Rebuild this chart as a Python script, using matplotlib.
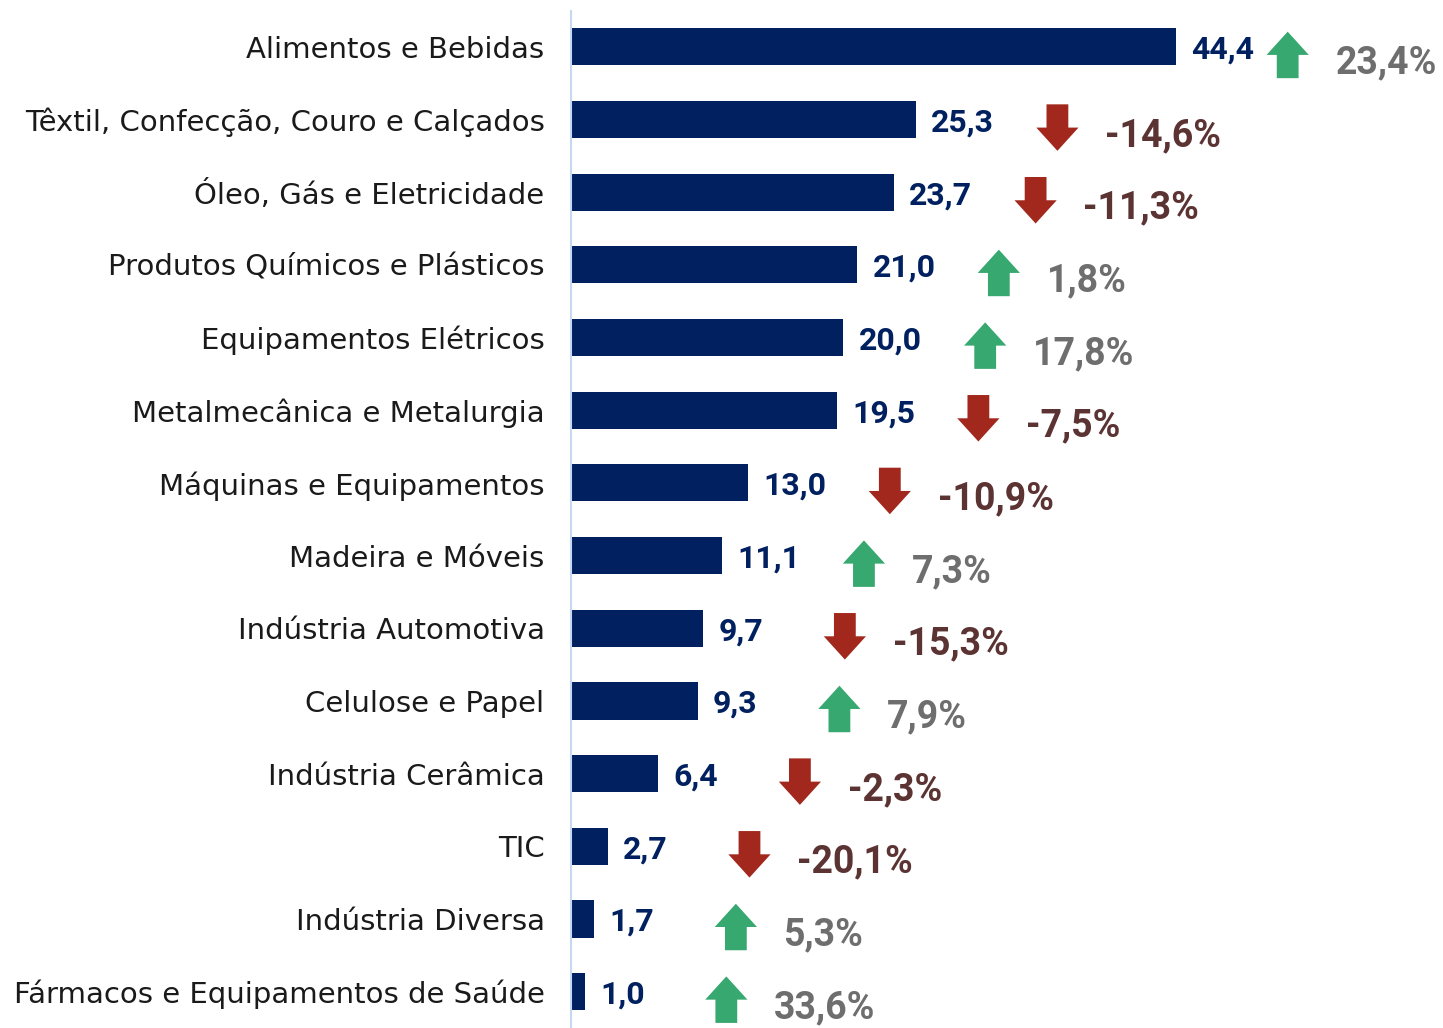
import matplotlib

matplotlib.use("Agg")
import matplotlib.pyplot as plt  # noqa: E402
from matplotlib.patches import FancyArrow  # noqa: E402

categories = [
    "Alimentos e Bebidas",
    "Têxtil, Confecção, Couro e Calçados",
    "Óleo, Gás e Eletricidade",
    "Produtos Químicos e Plásticos",
    "Equipamentos Elétricos",
    "Metalmecânica e Metalurgia",
    "Máquinas e Equipamentos",
    "Madeira e Móveis",
    "Indústria Automotiva",
    "Celulose e Papel",
    "Indústria Cerâmica",
    "TIC",
    "Indústria Diversa",
    "Fármacos e Equipamentos de Saúde",
]
values = [44.4, 25.3, 23.7, 21.0, 20.0, 19.5, 13.0, 11.1, 9.7, 9.3, 6.4, 2.7, 1.7, 1.0]
changes = [23.4, -14.6, -11.3, 1.8, 17.8, -7.5, -10.9, 7.3, -15.3, 7.9, -2.3, -20.1, 5.3, 33.6]

NAVY = "#002060"
GREEN = "#37A86F"
RED = "#A2281D"
POS_TXT = "#6E6E6E"
NEG_TXT = "#5C3333"
FONT = "DejaVu Sans"
NUM_FONT = "Roboto"


def fmt(v, pct=False):
    s = f"{v:.1f}".replace(".", ",")
    return s + "%" if pct else s


fig = plt.figure(figsize=(14.43, 10.28), dpi=100)
ax = fig.add_axes([0.3957, 0.0, 0.6043, 0.9897])

y = list(range(len(categories)))
ax.barh(y, values, height=0.51, color=NAVY)
ax.set_xlim(0, 64)
ax.set_ylim(len(categories) - 0.5, -0.5)

ax.set_yticks(y)
ax.set_yticklabels(categories, fontsize=21, fontfamily=FONT, color="#1a1a1a")
ax.tick_params(axis="y", length=0, pad=19)
ax.set_xticks([])
for side in ("top", "right", "bottom"):
    ax.spines[side].set_visible(False)
ax.spines["left"].set_color("#C9D8F2")
ax.spines["left"].set_linewidth(1.5)

# arrow geometry in data units (x: ~13.6 px per unit, y: ~72.8 px per row)
arrow_gap = 10.4
arrow_max_x = 52.6  # keep the last label inside the figure
stem_w = 1.6
head_w = 3.1
arrow_len = 0.64
head_len = 0.32

for i, (v, c) in enumerate(zip(values, changes)):
    ax.annotate(fmt(v), (v, i + 0.04), xytext=(11, 0), textcoords="offset points",
                va="center", ha="left", fontsize=23, fontweight="bold",
                fontfamily=NUM_FONT, color=NAVY)

    ax_x = min(v + arrow_gap, arrow_max_x)
    yc = i + 0.11
    if c >= 0:
        start, dy, col = yc + arrow_len / 2, -arrow_len, GREEN
    else:
        start, dy, col = yc - arrow_len / 2, arrow_len, RED
    ax.add_patch(FancyArrow(ax_x, start, 0, dy, width=stem_w, head_width=head_w,
                            head_length=head_len, length_includes_head=True,
                            color=col, linewidth=0))

    ax.text(ax_x + 3.5, i + 0.22, fmt(c, pct=True), va="center", ha="left",
            fontsize=27, fontweight="bold", fontfamily=NUM_FONT,
            color=POS_TXT if c >= 0 else NEG_TXT)

fig.savefig("out.png", dpi=100)
plt.close(fig)
